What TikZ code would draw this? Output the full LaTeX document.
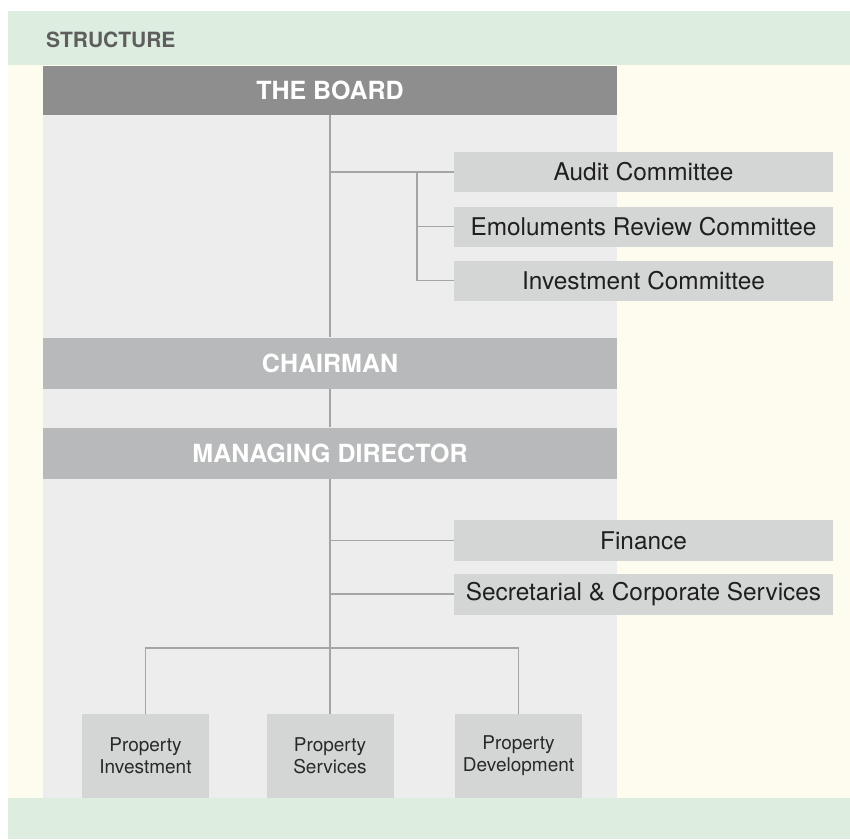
\documentclass[tikz,border=0pt]{standalone}
\usepackage{fontspec}
\setmainfont{TeX Gyre Heros}
\definecolor{bandgreen}{HTML}{DDEDDF}
\definecolor{cream}{HTML}{FEFCEF}
\definecolor{panelgray}{HTML}{ECEDEC}
\definecolor{boardgray}{HTML}{8E8E8E}
\definecolor{headgray}{HTML}{B8B9BA}
\definecolor{boxgray}{HTML}{D4D5D5}
\definecolor{linegray}{HTML}{A5A5A5}
\definecolor{titlegray}{HTML}{5E5E5E}
\begin{document}
\begin{tikzpicture}[x=1pt,y=-1pt]
        \tikzstyle{head}=[fill=headgray,text=white,minimum width=574pt,minimum height=51pt,inner sep=0pt,font=\fontsize{25}{28}\selectfont\bfseries]
        \tikzstyle{unit}=[fill=boxgray,text=black!88,minimum width=379pt,minimum height=40pt,inner sep=0pt,font=\fontsize{24.4}{27}\selectfont]
        \tikzstyle{dept}=[fill=boxgray,text=black!84,minimum width=127pt,minimum height=84pt,inner sep=0pt,align=center,font=\fontsize{19}{22}\selectfont]
        \tikzstyle{link}=[draw=linegray,line width=1.1pt]
       \useasboundingbox (0,0) rectangle (850,839);
       \fill[cream] (8,65) rectangle (850,798);
       \fill[bandgreen] (8,11) rectangle (850,65);
       \fill[bandgreen] (8,798) rectangle (850,839);
       \fill[panelgray] (43,115) rectangle (617,798);
       \node [anchor=west,inner sep=0pt,text=titlegray,font=\fontsize{21}{24}\selectfont\bfseries] (title) at (46,40) {STRUCTURE};
       \begin{scope}
         \node [head,fill=boardgray,minimum height=49pt] (board) at (330,90.5) {THE BOARD};
         \node [head] (chair) at (330,363) {CHAIRMAN};
         \node [head] (md) at (330,453) {MANAGING DIRECTOR};
         \node [unit] (audit) at (643.5,172) {Audit Committee};
         \node [unit] (emol) at (643.5,226.5) {Emoluments Review Committee};
         \node [unit] (invest) at (643.5,280.5) {Investment Committee};
         \node [unit,minimum height=41pt] (fin) at (643.5,540.5) {Finance};
         \node [unit,minimum height=41pt] (secr) at (643.5,594) {Secretarial \& Corporate Services};
         \node [dept] (pinv) at (145.5,756) {Property\\Investment};
         \node [dept] (psrv) at (330,756) {Property\\Services};
         \node [dept] (pdev) at (518.5,756) {Property\\Development};
         \coordinate (cj) at (330,172);
         \coordinate (sj) at (417,172);
         \coordinate (fj) at (330,540.5);
         \coordinate (scj) at (330,594);
         \coordinate (bus) at (330,648);
         \path[link] (board) -- (chair);
         \path[link] (chair) -- (md);
         \path[link] (md) -- (psrv);
         \path[link] (cj) -- (audit);
         \path[link] (sj) |- (emol.west);
         \path[link] (sj) |- (invest.west);
         \path[link] (fj) -- (fin);
         \path[link] (scj) -- (secr);
         \path[link] (pinv) |- (bus) -| (pdev);
        \end{scope}
      \end{tikzpicture}
\end{document}
